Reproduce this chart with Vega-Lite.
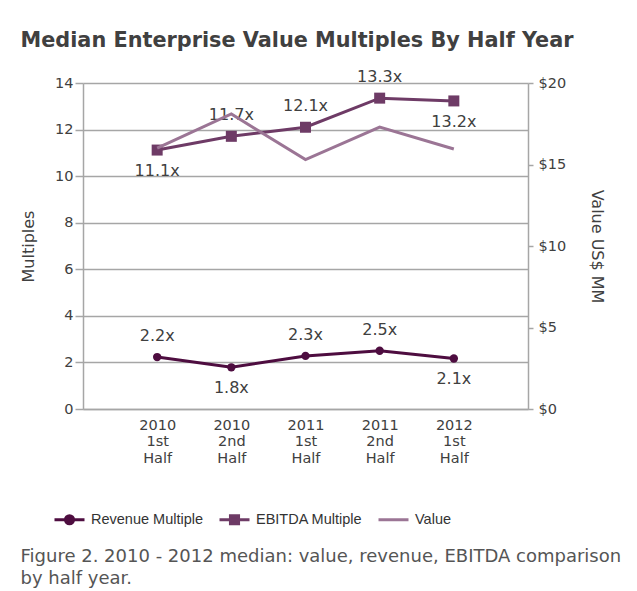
{
  "$schema": "https://vega.github.io/schema/vega-lite/v6.json",
  "background": "white",
  "padding": {"left": 20, "top": 30, "right": 10, "bottom": 5},
  "config": {"view": {"stroke": null}},
  "title": {
    "text": ["Figure 2. 2010 - 2012 median: value, revenue, EBITDA comparison", "by half year."],
    "orient": "bottom", "anchor": "start", "font": "DejaVu Sans", "fontSize": 18,
    "fontWeight": "normal", "color": "#555555", "lineHeight": 22, "offset": 16
  },
  "datasets": {
    "main": [
      {"period": "2010 1st Half", "series": "Revenue Multiple", "value": 2.23, "label": "2.2x"},
      {"period": "2010 2nd Half", "series": "Revenue Multiple", "value": 1.79, "label": "1.8x"},
      {"period": "2011 1st Half", "series": "Revenue Multiple", "value": 2.28, "label": "2.3x"},
      {"period": "2011 2nd Half", "series": "Revenue Multiple", "value": 2.5, "label": "2.5x"},
      {"period": "2012 1st Half", "series": "Revenue Multiple", "value": 2.17, "label": "2.1x"},
      {"period": "2010 1st Half", "series": "EBITDA Multiple", "value": 11.12, "label": "11.1x"},
      {"period": "2010 2nd Half", "series": "EBITDA Multiple", "value": 11.71, "label": "11.7x"},
      {"period": "2011 1st Half", "series": "EBITDA Multiple", "value": 12.1, "label": "12.1x"},
      {"period": "2011 2nd Half", "series": "EBITDA Multiple", "value": 13.35, "label": "13.3x"},
      {"period": "2012 1st Half", "series": "EBITDA Multiple", "value": 13.23, "label": "13.2x"},
      {"period": "2010 1st Half", "series": "Value", "value": 16.0, "label": ""},
      {"period": "2010 2nd Half", "series": "Value", "value": 18.1, "label": ""},
      {"period": "2011 1st Half", "series": "Value", "value": 15.3, "label": ""},
      {"period": "2011 2nd Half", "series": "Value", "value": 17.3, "label": ""},
      {"period": "2012 1st Half", "series": "Value", "value": 15.95, "label": ""}
    ]
  },
  "vconcat": [
    {
      "title": {
        "text": "Median Enterprise Value Multiples By Half Year", "anchor": "start",
        "font": "DejaVu Sans", "fontSize": 20.8, "fontWeight": "bold", "color": "#404040", "offset": 17
      },
      "width": 445,
      "height": 326,
      "data": {"name": "main"},
      "encoding": {
        "x": {
          "field": "period", "type": "ordinal",
          "scale": {"type": "point", "padding": 1, "domain": ["2010 1st Half", "2010 2nd Half", "2011 1st Half", "2011 2nd Half", "2012 1st Half"]},
          "axis": {
            "title": null, "labelAngle": 0, "labelExpr": "split(datum.label, ' ')",
            "labelFont": "DejaVu Sans", "labelFontSize": 14.5, "labelColor": "#404040",
            "labelLineHeight": 16.5, "labelPadding": 9, "ticks": false,
            "domainColor": "#a6a6a6", "domainWidth": 1.5, "grid": false
          }
        }
      },
      "layer": [
        {
          "transform": [{"filter": "datum.series !== 'Value'"}],
          "encoding": {
            "y": {
              "field": "value", "type": "quantitative",
              "scale": {"domain": [0, 14], "nice": false},
              "axis": {
                "orient": "left", "values": [0, 2, 4, 6, 8, 10, 12, 14],
                "title": "Multiples", "titleFont": "DejaVu Sans", "titleFontSize": 16,
                "titleFontWeight": "normal", "titleColor": "#404040", "titlePadding": 18,
                "labelFont": "DejaVu Sans", "labelFontSize": 14.5, "labelColor": "#404040",
                "labelPadding": 2, "tickSize": 8, "tickColor": "#a6a6a6", "tickWidth": 1.5,
                "domainColor": "#a6a6a6", "domainWidth": 1.5,
                "grid": true, "gridColor": "#a6a6a6", "gridWidth": 1.5
              }
            }
          },
          "layer": [
            {
              "mark": {"type": "line", "strokeWidth": 3},
              "encoding": {
                "color": {
                  "field": "series", "type": "nominal",
                  "scale": {"domain": ["Revenue Multiple", "EBITDA Multiple", "Value"], "range": ["#4e0d40", "#6e3b66", "#9b7595"]},
                  "legend": {
                    "title": null, "orient": "none", "direction": "horizontal",
                    "legendX": -30, "legendY": 420,
                    "symbolSize": 900, "labelFont": "Liberation Sans", "labelFontSize": 14.5,
                    "labelColor": "#333333", "labelOffset": 5, "columnPadding": 9,
                    "encode": {
                      "symbols": {
                        "update": {
                          "shape": {"signal": "datum.value === 'Revenue Multiple' ? 'M-1,0H1M-0.27,0A0.27,0.27,0,1,1,0.27,0A0.27,0.27,0,1,1,-0.27,0ZM0,-0.4L0,-0.4M0,0.4L0,0.4' : datum.value === 'EBITDA Multiple' ? 'M-1,0H1M-0.27,-0.27H0.27V0.27H-0.27ZM0,-0.4L0,-0.4M0,0.4L0,0.4' : 'M-1,0H1M0,-0.4L0,-0.4M0,0.4L0,0.4'"},
                          "fill": {"signal": "datum.value === 'Revenue Multiple' ? '#4e0d40' : datum.value === 'EBITDA Multiple' ? '#6e3b66' : '#9b7595'"},
                          "stroke": {"signal": "datum.value === 'Revenue Multiple' ? '#4e0d40' : datum.value === 'EBITDA Multiple' ? '#6e3b66' : '#9b7595'"},
                          "strokeWidth": {"value": 3},
                          "opacity": {"value": 1}
                        }
                      }
                    }
                  }
                }
              }
            },
            {
              "transform": [{"filter": "datum.series === 'Revenue Multiple'"}],
              "mark": {"type": "point", "shape": "circle", "filled": true, "size": 70, "color": "#4e0d40", "opacity": 1}
            },
            {
              "transform": [{"filter": "datum.series === 'EBITDA Multiple'"}],
              "mark": {"type": "point", "shape": "square", "filled": true, "size": 121, "color": "#6e3b66", "opacity": 1}
            },
            {
              "transform": [{"filter": "(datum.series === 'Revenue Multiple' && (datum.period === '2010 2nd Half' || datum.period === '2012 1st Half')) || (datum.series === 'EBITDA Multiple' && (datum.period === '2010 1st Half' || datum.period === '2012 1st Half'))"}],
              "mark": {"type": "text", "dy": 21, "baseline": "middle", "font": "DejaVu Sans", "fontSize": 16, "color": "#404040"},
              "encoding": {"text": {"field": "label"}}
            },
            {
              "transform": [{"filter": "!((datum.series === 'Revenue Multiple' && (datum.period === '2010 2nd Half' || datum.period === '2012 1st Half')) || (datum.series === 'EBITDA Multiple' && (datum.period === '2010 1st Half' || datum.period === '2012 1st Half')))"}],
              "mark": {"type": "text", "dy": -21, "baseline": "middle", "font": "DejaVu Sans", "fontSize": 16, "color": "#404040"},
              "encoding": {"text": {"field": "label"}}
            }
          ]
        },
        {
          "transform": [{"filter": "datum.series === 'Value'"}],
          "mark": {"type": "line", "strokeWidth": 3},
          "encoding": {
            "y": {
              "field": "value", "type": "quantitative",
              "scale": {"domain": [0, 20], "nice": false},
              "axis": {
                "orient": "right", "values": [0, 5, 10, 15, 20], "format": "$",
                "title": "Value US$ MM", "titleFont": "DejaVu Sans", "titleFontSize": 16,
                "titleFontWeight": "normal", "titleColor": "#404040", "titlePadding": 23,
                "labelFont": "DejaVu Sans", "labelFontSize": 14.5, "labelColor": "#404040",
                "labelPadding": 5, "tickSize": 5, "tickColor": "#a6a6a6", "tickWidth": 1.5,
                "domainColor": "#a6a6a6", "domainWidth": 1.5, "grid": false
              }
            },
            "color": {"field": "series", "type": "nominal"}
          }
        }
      ],
      "resolve": {"scale": {"y": "independent"}}
    }
  ],
  "resolve": {"legend": {"color": "independent"}}
}
